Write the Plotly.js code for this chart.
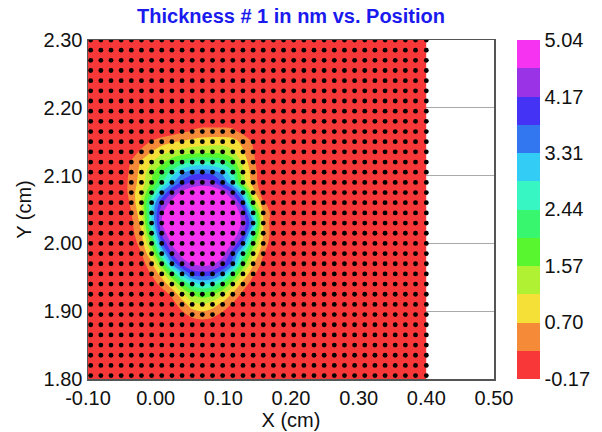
<!DOCTYPE html>
<html><head><meta charset="utf-8">
<script src="https://cdn.plot.ly/plotly-3.0.1.min.js"></script>
<style>html,body{margin:0;padding:0;background:#fff}</style></head>
<body><div id="chart" style="width:602px;height:432px"></div>
<script>
const dotX=[-0.096,-0.081,-0.066,-0.051,-0.036,-0.021,-0.006,0.009,0.024,0.039,0.054,0.069,0.084,0.099,0.114,0.129,0.144,0.159,0.174,0.189,0.204,0.219,0.234,0.249,0.264,0.279,0.294,0.309,0.324,0.339,0.354,0.369,0.384,0.400];
const dotY=[1.805,1.820,1.835,1.850,1.865,1.880,1.895,1.910,1.925,1.940,1.955,1.970,1.985,2.000,2.015,2.030,2.045,2.060,2.075,2.090,2.105,2.120,2.135,2.150,2.165,2.180,2.195,2.210,2.225,2.240,2.255,2.270,2.285,2.300];
const baseLevel=-0.1;
// thickness readings for the central patch: columns 3..19, rows 25 (top) down to 5
const patchFirstCol=3, patchTopRow=25;
const patch=[
[-.1,-.1,-.1,-.1,-.1,-.1,.0,.05,.05,.05,.05,.05,.0,-.1,-.1,-.1,-.1],
[-.1,-.1,-.1,-.1,-.05,.05,.2,.3,.4,.4,.4,.35,.15,-.1,-.1,-.1,-.1],
[-.1,-.1,.0,.3,.5,.65,.75,.85,.9,.95,.95,.9,.55,.2,-.1,-.1,-.1],
[-.1,-.05,.4,.7,1.0,1.15,1.3,1.4,1.45,1.45,1.4,1.2,.75,.3,-.1,-.1,-.1],
[-.1,.3,.75,1.1,1.45,1.85,2.2,2.45,2.5,2.45,2.3,1.8,1.0,.35,-.05,-.1,-.1],
[-.1,.4,.85,1.45,2.0,2.6,3.2,3.55,3.65,3.55,3.15,2.5,1.2,.45,-.05,-.1,-.1],
[-.05,.45,.9,1.6,2.4,3.2,3.9,4.25,4.4,4.3,3.7,2.9,1.4,.5,-.05,-.1,-.1],
[-.05,.45,1.1,2.1,3.3,4.2,4.75,5.0,5.0,5.0,4.75,4.1,2.9,.9,-.05,-.1,-.1],
[-.1,.35,1.2,2.8,4.1,4.8,5.0,5.0,5.0,5.0,5.0,4.75,3.8,1.6,.35,-.05,-.1],
[-.1,.25,1.0,2.9,4.55,5.0,5.0,5.0,5.0,5.0,5.0,5.0,4.4,2.7,.65,.05,-.1],
[-.1,.15,.85,2.8,4.6,5.0,5.0,5.0,5.0,5.0,5.0,5.0,4.5,3.3,.7,-.05,-.1],
[-.1,.1,.65,2.3,4.3,5.0,5.0,5.0,5.0,5.0,5.0,4.9,4.3,2.5,.7,.0,-.1],
[-.1,.0,.45,1.7,3.7,4.7,5.0,5.0,5.0,5.0,5.0,4.55,3.6,1.8,.55,-.05,-.1],
[-.1,-.05,.25,1.1,2.8,4.2,4.8,5.0,5.0,5.0,4.8,3.9,2.6,1.2,.3,-.1,-.1],
[-.1,-.1,.05,.6,1.8,3.3,4.3,4.65,4.75,4.7,4.3,3.5,1.9,.75,.1,-.1,-.1],
[-.1,-.1,-.05,.3,.9,2.0,3.1,3.9,4.0,3.9,3.3,2.2,1.1,.35,-.05,-.1,-.1],
[-.1,-.1,-.1,.05,.4,1.0,1.9,2.6,2.9,2.7,2.1,1.3,.5,.05,-.1,-.1,-.1],
[-.1,-.1,-.1,-.1,.05,.35,1.0,1.6,1.8,1.65,1.2,.6,.15,-.1,-.1,-.1,-.1],
[-.1,-.1,-.1,-.1,-.1,.1,.45,.95,1.1,.9,.55,.2,-.05,-.1,-.1,-.1,-.1],
[-.1,-.1,-.1,-.1,-.1,-.05,.15,.4,.5,.4,.15,-.05,-.1,-.1,-.1,-.1,-.1],
[-.1,-.1,-.1,-.1,-.1,-.1,-.1,-.05,.0,-.05,-.1,-.1,-.1,-.1,-.1,-.1,-.1]
];
const bandColors=['#F83838','#F58B38','#F4E036','#B0F233','#57F62F','#38F66E','#38F5C4','#33CCF5','#3377F0','#4433F5','#9933E5','#F533F0'];
const zLow=-0.17, zHigh=5.04;
const barTicks=[-0.17,0.70,1.57,2.44,3.31,4.17,5.04];
const barLabels=['-0.17','0.70','1.57','2.44','3.31','4.17','5.04'];
const xTicks=[-0.10,0,0.10,0.20,0.30,0.40,0.50];
const yTicks=[1.80,1.90,2.00,2.10,2.20,2.30];

// full grid: background level with the patch laid in
const z=dotY.map((_,j)=>dotX.map((_,i)=>{
  const r=patchTopRow-j,k=i-patchFirstCol;
  return (patch[r]&&patch[r][k]!==undefined)?patch[r][k]:baseLevel;
}));
// the filled area reaches the left and bottom frame, one step past the first dots
const fillX=[-0.10].concat(dotX);
const fillY=[1.80].concat(dotY);
const fillZ=[[baseLevel].concat(z[0])].concat(z.map(r=>[r[0]].concat(r)));

const scale=[];
bandColors.forEach((c,i)=>{scale.push([i/12,c]);scale.push([(i+1)/12,c]);});
const px=[],py=[];
dotY.forEach(y=>dotX.forEach(x=>{px.push(x);py.push(y);}));
const tickFont={family:'"Liberation Sans",Arial,sans-serif',size:20,color:'#111'};
const titleFont={family:'"Liberation Sans",Arial,sans-serif',size:20,color:'#111'};

Plotly.newPlot('chart',[{
  type:'contour',x:fillX,y:fillY,z:fillZ,
  zmin:zLow,zmax:zHigh,autocontour:false,
  contours:{start:zLow,end:zHigh,size:(zHigh-zLow)/12,coloring:'fill',showlines:false},
  line:{width:0,smoothing:1},
  colorscale:scale,hoverinfo:'skip',
  colorbar:{x:(517-88)/406,xanchor:'left',y:0.5,yanchor:'middle',len:1,lenmode:'fraction',thickness:23,
    outlinewidth:0,borderwidth:0,xpad:0,ypad:0,ticks:'',ticklen:0,tickmode:'array',tickvals:barTicks,ticktext:barLabels,tickfont:tickFont}
},{
  type:'scatter',mode:'markers',x:px,y:py,marker:{color:'#000',size:4.8,line:{width:0}},hoverinfo:'skip',showlegend:false
}],{
  width:602,height:432,margin:{l:88,r:108,t:40,b:53,pad:0},
  paper_bgcolor:'#fff',plot_bgcolor:'#fff',showlegend:false,
  title:{text:'<b>Thickness # 1 in nm vs. Position</b>',x:291/602,xanchor:'center',y:1-16/432,yanchor:'middle',
    font:{family:'"Liberation Sans",Arial,sans-serif',size:20,color:'#1a1aee'}},
  xaxis:{range:[-0.10,0.50],tickmode:'array',tickvals:xTicks,ticktext:xTicks.map(v=>v.toFixed(2)),tickfont:tickFont,
    showgrid:false,zeroline:false,showline:true,mirror:true,linecolor:'#555',linewidth:1.5,ticks:'',
    title:{text:'X (cm)',font:titleFont,standoff:3}},
  yaxis:{range:[1.80,2.30],tickmode:'array',tickvals:yTicks,ticktext:yTicks.map(v=>v.toFixed(2)),tickfont:tickFont,
    showgrid:true,gridcolor:'#aaaaaa',gridwidth:1,zeroline:false,showline:true,mirror:true,linecolor:'#555',linewidth:1.5,ticks:'',
    title:{text:'Y (cm)',font:titleFont,standoff:6}}
},{displayModeBar:false,staticPlot:true});
</script></body></html>
